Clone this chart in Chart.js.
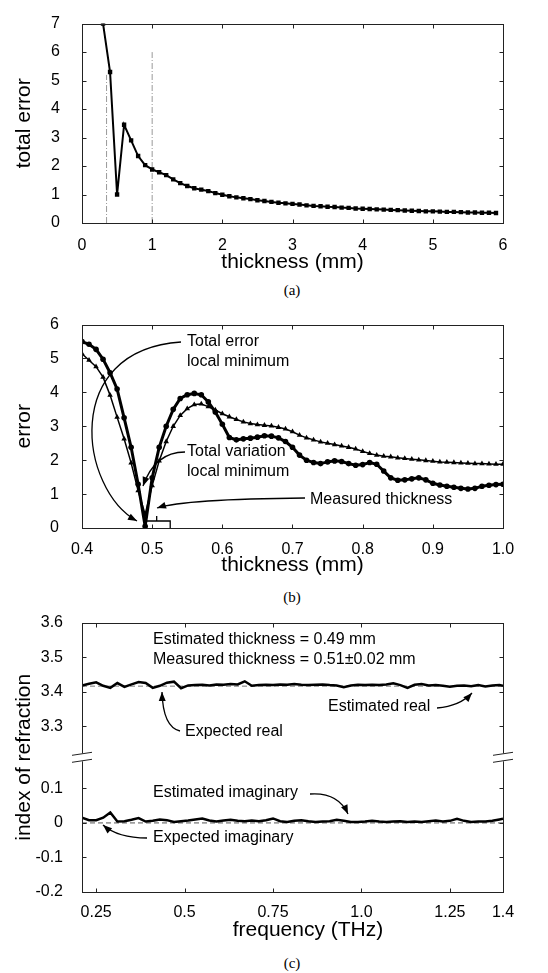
<!DOCTYPE html>
<html>
<head>
<meta charset="utf-8">
<script src="https://cdn.jsdelivr.net/npm/chart.js@4.4.1/dist/chart.umd.min.js"></script>
<style>
  body { margin: 0; background: #fff; }
  #page { position: relative; width: 548px; height: 973px; background: #fff; overflow: hidden; }
  canvas { position: absolute; left: 0; }
  .cap { position: absolute; left: 242px; width: 100px; text-align: center;
         font: 15px 'Liberation Serif', 'Times New Roman', serif; line-height: 16px; color: #000; }
</style>
</head>
<body>
<div id="page">
  <canvas id="chartA" width="548" height="275" style="top:0px"></canvas>
  <div class="cap" style="top:282px">(a)</div>
  <canvas id="chartB" width="548" height="278" style="top:300px"></canvas>
  <div class="cap" style="top:589px">(b)</div>
  <canvas id="chartC" width="548" height="341" style="top:602px"></canvas>
  <div class="cap" style="top:955px">(c)</div>
</div>
<script>
    // ---- (a) total error vs thickness ----
    var thicknessA = [0.3, 0.4, 0.5, 0.6, 0.7, 0.8, 0.9, 1.0, 1.1, 1.2, 1.3, 1.4, 1.5, 1.6, 1.7, 1.8, 1.9,
        2.0, 2.1, 2.2, 2.3, 2.4, 2.5, 2.6, 2.7, 2.8, 2.9, 3.0, 3.1, 3.2, 3.3, 3.4, 3.5, 3.6, 3.7, 3.8, 3.9,
        4.0, 4.1, 4.2, 4.3, 4.4, 4.5, 4.6, 4.7, 4.8, 4.9, 5.0, 5.1, 5.2, 5.3, 5.4, 5.5, 5.6, 5.7, 5.8, 5.9];
    var totalErrorA = [7.0, 5.3, 1.0, 3.45, 2.9, 2.35, 2.03, 1.88, 1.78, 1.68, 1.53, 1.40, 1.30, 1.22, 1.17, 1.12, 1.05,
        0.99, 0.94, 0.90, 0.87, 0.84, 0.80, 0.77, 0.74, 0.71, 0.69, 0.67, 0.65, 0.62, 0.60, 0.59, 0.57, 0.56, 0.54, 0.53, 0.51,
        0.50, 0.49, 0.48, 0.47, 0.46, 0.45, 0.44, 0.43, 0.42, 0.41, 0.41, 0.40, 0.39, 0.39, 0.38, 0.37, 0.37, 0.36, 0.36, 0.35];
    var guideXA = [0.35, 1.0];      // dash-dot guide lines
    var guideTopA = [5.2, 6.0];
    var xTicksA = [0, 1, 2, 3, 4, 5, 6];
    var yTicksA = [0, 1, 2, 3, 4, 5, 6, 7];

    // ---- (b) error vs thickness (zoom) ----
    var thicknessB = [0.40, 0.41, 0.42, 0.43, 0.44, 0.45, 0.46, 0.47, 0.48, 0.49,
        0.50, 0.51, 0.52, 0.53, 0.54, 0.55, 0.56, 0.57, 0.58, 0.59,
        0.60, 0.61, 0.62, 0.63, 0.64, 0.65, 0.66, 0.67, 0.68, 0.69,
        0.70, 0.71, 0.72, 0.73, 0.74, 0.75, 0.76, 0.77, 0.78, 0.79,
        0.80, 0.81, 0.82, 0.83, 0.84, 0.85, 0.86, 0.87, 0.88, 0.89,
        0.90, 0.91, 0.92, 0.93, 0.94, 0.95, 0.96, 0.97, 0.98, 0.99, 1.00];
    var totalErrorB = [5.50, 5.42, 5.27, 4.98, 4.58, 4.10, 3.25, 2.38, 1.29, 0.05,
        1.48, 2.38, 3.00, 3.50, 3.82, 3.93, 3.97, 3.93, 3.72, 3.42,
        3.06, 2.67, 2.60, 2.63, 2.65, 2.68, 2.72, 2.71, 2.66, 2.55,
        2.38, 2.15, 2.00, 1.93, 1.90, 1.95, 1.98, 1.96, 1.90, 1.85,
        1.87, 1.93, 1.88, 1.68, 1.48, 1.41, 1.42, 1.45, 1.48, 1.42,
        1.32, 1.27, 1.23, 1.20, 1.17, 1.15, 1.17, 1.23, 1.26, 1.28, 1.29];
    var totalVariationB = [5.14, 4.95, 4.76, 4.45, 3.92, 3.27, 2.63, 1.92, 1.10, 0.40,
        1.25, 1.98, 2.55, 3.00, 3.32, 3.52, 3.64, 3.66, 3.58, 3.48,
        3.37, 3.28, 3.20, 3.13, 3.08, 3.05, 3.03, 3.01, 2.97, 2.92,
        2.84, 2.74, 2.66, 2.60, 2.54, 2.50, 2.46, 2.42, 2.38, 2.33,
        2.26, 2.20, 2.15, 2.12, 2.10, 2.07, 2.05, 2.03, 2.01, 1.99,
        1.97, 1.95, 1.94, 1.93, 1.92, 1.91, 1.90, 1.90, 1.89, 1.88, 1.88];
    var measuredThickness = 0.51;
    var measuredTolerance = 0.02;
    var xTicksB = [0.4, 0.5, 0.6, 0.7, 0.8, 0.9, 1.0];
    var xLabelsB = ['0.4', '0.5', '0.6', '0.7', '0.8', '0.9', '1.0'];
    var yTicksB = [0, 1, 2, 3, 4, 5, 6];

    // ---- (c) index of refraction vs frequency ----
    var freqC = [0.21, 0.23, 0.25, 0.27, 0.29, 0.31, 0.33, 0.35, 0.37, 0.39,
        0.41, 0.43, 0.45, 0.47, 0.49, 0.51, 0.53, 0.55, 0.57, 0.59,
        0.61, 0.63, 0.65, 0.67, 0.69, 0.71, 0.73, 0.75, 0.77, 0.79,
        0.81, 0.83, 0.85, 0.87, 0.89, 0.91, 0.93, 0.95, 0.97, 0.99,
        1.01, 1.03, 1.05, 1.07, 1.09, 1.11, 1.13, 1.15, 1.17, 1.19,
        1.21, 1.23, 1.25, 1.27, 1.29, 1.31, 1.33, 1.35, 1.37, 1.39, 1.40];
    var realEstC = [3.418, 3.423, 3.427, 3.417, 3.411, 3.425, 3.414, 3.421, 3.428, 3.425,
        3.411, 3.417, 3.426, 3.429, 3.410, 3.418, 3.419, 3.420, 3.418, 3.421,
        3.420, 3.422, 3.421, 3.430, 3.417, 3.419, 3.420, 3.419, 3.421, 3.420,
        3.422, 3.420, 3.419, 3.420, 3.421, 3.419, 3.418, 3.413, 3.418, 3.420,
        3.419, 3.420, 3.419, 3.421, 3.424, 3.419, 3.411, 3.420, 3.422, 3.418,
        3.419, 3.417, 3.414, 3.417, 3.418, 3.416, 3.419, 3.415, 3.418, 3.419, 3.417];
    var imagEstC = [0.015, 0.008, 0.008, 0.015, 0.030, 0.004, 0.005, 0.009, 0.014, 0.004,
        0.006, 0.010, 0.008, 0.003, 0.005, 0.007, 0.010, 0.013, 0.007, 0.004,
        0.007, 0.009, 0.006, 0.005, 0.007, 0.005, 0.008, 0.013, 0.005, 0.003,
        0.006, 0.008, 0.005, 0.003, 0.004, 0.005, 0.009, 0.006, 0.003, 0.003,
        0.004, 0.006, 0.004, 0.003, 0.004, 0.005, 0.003, 0.004, 0.003, 0.005,
        0.007, 0.004, 0.006, 0.012, 0.006, 0.003, 0.004, 0.004, 0.006, 0.010, 0.012];
    var expectedFreqC = [0.21, 1.40];
    var expectedRealC = [3.416, 3.416];
    var expectedImagC = [0, 0];
    var xTicksC = [0.25, 0.5, 0.75, 1.0, 1.25, 1.4];
    var xLabelsC = ['0.25', '0.5', '0.75', '1.0', '1.25', '1.4'];
    var yTicksC = [-0.2, -0.1, 0, 0.1, 3.3, 3.4, 3.5, 3.6];
    var yLabelsC = ['-0.2', '-0.1', '0', '0.1', '3.3', '3.4', '3.5', '3.6'];

    var FONT = "'Liberation Sans', Arial, sans-serif";

    // broken y axis in (c): the real part is shifted down next to the imaginary part
    var BREAK_SHIFT = 3.02;
    var BREAK_AT = 0.19;
    function toAxisC(v) {
        return v > 1 ? v - BREAK_SHIFT : v;
    }

    function pts(xs, ys, f) {
        return xs.map(function (x, i) {
            return { x: x, y: f ? f(ys[i]) : ys[i] };
        });
    }

    function fixedTicks(values, f) {
        return function (scale) {
            scale.ticks = values.map(function (v) { return { value: f ? f(v) : v }; });
        };
    }

    function xAxis(min, max, ticks, labels, title, height, pad) {
        return {
            type: 'linear', min: min, max: max,
            grid: { display: false }, border: { display: false },
            afterBuildTicks: fixedTicks(ticks),
            afterFit: function (s) { s.height = height; },
            ticks: {
                color: '#000', padding: pad, maxRotation: 0, autoSkip: false,
                font: { family: FONT, size: 16 },
                callback: function (v, i) { return labels ? labels[i] : String(v); }
            },
            title: { display: !!title, text: title, color: '#000', padding: 0, font: { family: FONT, size: 21 } }
        };
    }

    function yAxis(min, max, ticks, labels, title, pad, f) {
        return {
            type: 'linear', min: min, max: max,
            grid: { display: false }, border: { display: false },
            afterBuildTicks: fixedTicks(ticks, f),
            afterFit: function (s) { s.width = 82; },
            ticks: {
                color: '#000', padding: pad, autoSkip: false,
                font: { family: FONT, size: 16 },
                callback: function (v, i) { return labels ? labels[i] : String(v); }
            },
            title: { display: true, text: title, color: '#000', padding: { top: 12 }, font: { family: FONT, size: 21 } }
        };
    }

    // box round the plot area with small inward ticks on all four sides
    var framePlugin = {
        id: 'frame',
        afterDraw: function (chart) {
            var ctx = chart.ctx, a = chart.chartArea;
            var xs = chart.scales.x, ys = chart.scales.y;
            var l = Math.round(a.left) + 0.5, r = Math.round(a.right) + 0.5;
            var t = Math.round(a.top) + 0.5, b = Math.round(a.bottom) + 0.5;
            ctx.save();
            ctx.strokeStyle = '#222';
            ctx.lineWidth = 1;
            ctx.strokeRect(l, t, r - l, b - t);
            ctx.beginPath();
            xs.ticks.forEach(function (tk, i) {
                var px = Math.round(xs.getPixelForTick(i)) + 0.5;
                ctx.moveTo(px, b); ctx.lineTo(px, b - 4);
                ctx.moveTo(px, t); ctx.lineTo(px, t + 4);
            });
            ys.ticks.forEach(function (tk, i) {
                var py = Math.round(ys.getPixelForTick(i)) + 0.5;
                ctx.moveTo(l, py); ctx.lineTo(l + 4, py);
                ctx.moveTo(r, py); ctx.lineTo(r - 4, py);
            });
            ctx.stroke();
            ctx.restore();
        }
    };

    function arrowHead(ctx, x, y, fx, fy) {
        var ang = Math.atan2(y - fy, x - fx), L = 9, W = 3.5;
        ctx.beginPath();
        ctx.moveTo(x, y);
        ctx.lineTo(x - L * Math.cos(ang) + W * Math.sin(ang), y - L * Math.sin(ang) - W * Math.cos(ang));
        ctx.lineTo(x - L * Math.cos(ang) - W * Math.sin(ang), y - L * Math.sin(ang) + W * Math.cos(ang));
        ctx.closePath();
        ctx.fill();
    }

    function curvedArrow(ctx, p) {
        var n = p.length;
        ctx.beginPath();
        ctx.moveTo(p[0], p[1]);
        if (n === 6) ctx.quadraticCurveTo(p[2], p[3], p[4], p[5]);
        else ctx.bezierCurveTo(p[2], p[3], p[4], p[5], p[6], p[7]);
        ctx.stroke();
        arrowHead(ctx, p[n - 2], p[n - 1], p[n - 4], p[n - 3]);
    }

    function drawNotes(ctx, texts, arrows, size) {
        ctx.save();
        ctx.fillStyle = '#000';
        ctx.strokeStyle = '#000';
        ctx.lineWidth = 1.3;
        ctx.font = size + 'px ' + FONT;
        ctx.textAlign = 'left';
        ctx.textBaseline = 'middle';
        texts.forEach(function (t) { ctx.fillText(t[0], t[1], t[2]); });
        arrows.forEach(function (p) { curvedArrow(ctx, p); });
        ctx.restore();
    }

    var notesB = {
        id: 'notesB',
        afterDraw: function (chart) {
            var ctx = chart.ctx, xs = chart.scales.x, ys = chart.scales.y;
            drawNotes(ctx, [
                ['Total error', 187, 42], ['local minimum', 187, 62],
                ['Total variation', 187, 152], ['local minimum', 187, 172],
                ['Measured thickness', 310, 200]
            ], [
                [181, 42, 60, 50, 80, 190, 137, 221],
                [185, 152, 155, 152, 143, 186],
                [305, 198, 185, 199, 157, 208]
            ], 16);
            // bracket for the measured thickness range
            var x0 = xs.getPixelForValue(measuredThickness - measuredTolerance) - 2;
            var x1 = xs.getPixelForValue(measuredThickness + measuredTolerance) - 3;
            var xm = (x0 + x1) / 2;
            var yb = ys.getPixelForValue(0), yt = yb - 7;
            ctx.save();
            ctx.strokeStyle = '#000';
            ctx.lineWidth = 1.3;
            ctx.beginPath();
            ctx.moveTo(x0, yt); ctx.lineTo(x1, yt); ctx.lineTo(x1, yb);
            ctx.moveTo(xm, yt); ctx.lineTo(xm, yt - 5);
            ctx.stroke();
            ctx.restore();
        }
    };

    var notesC = {
        id: 'notesC',
        afterDraw: function (chart) {
            var ctx = chart.ctx, a = chart.chartArea, ys = chart.scales.y;
            drawNotes(ctx, [
                ['Estimated thickness = 0.49 mm', 153, 38],
                ['Measured thickness = 0.51\u00b10.02 mm', 153, 58],
                ['Expected real', 185, 130],
                ['Estimated real', 328, 105],
                ['Estimated imaginary', 153, 191],
                ['Expected imaginary', 153, 236]
            ], [
                [180, 129, 163, 125, 162, 90],
                [437, 106, 460, 104, 472, 91],
                [310, 192, 338, 190, 348, 212],
                [147, 236, 118, 236, 103, 223]
            ], 16);
            // x axis title
            ctx.save();
            ctx.fillStyle = '#000';
            ctx.font = '21px ' + FONT;
            ctx.textAlign = 'center';
            ctx.textBaseline = 'middle';
            ctx.fillText('frequency (THz)', 308, 328);
            // axis break marks
            var by = ys.getPixelForValue(BREAK_AT);
            ctx.fillStyle = '#fff';
            ctx.fillRect(a.left - 2, by - 4, 5, 8);
            ctx.fillRect(a.right - 2, by - 4, 5, 8);
            ctx.strokeStyle = '#222';
            ctx.lineWidth = 1;
            ctx.beginPath();
            [a.left, a.right].forEach(function (x) {
                ctx.moveTo(x - 10, by - 2); ctx.lineTo(x + 10, by - 5);
                ctx.moveTo(x - 10, by + 5); ctx.lineTo(x + 10, by + 2);
            });
            ctx.stroke();
            ctx.restore();
        }
    };

    var baseOptions = {
        responsive: false,
        animation: false,
        plugins: { legend: { display: false }, tooltip: { enabled: false } }
    };

    function opts(scales) {
        return Object.assign({}, baseOptions, {
            layout: { padding: { left: 0, right: 45, top: 18, bottom: 0 } },
            scales: scales
        });
    }

    // (a)
    var guideSetsA = guideXA.map(function (gx, i) {
        return {
            data: [{ x: gx, y: 0 }, { x: gx, y: guideTopA[i] }],
            showLine: true, borderColor: '#9a9a9a', borderWidth: 1,
            borderDash: [6, 2, 1, 2], pointRadius: 0
        };
    });
    new Chart(document.getElementById('chartA'), {
        type: 'scatter',
        data: {
            datasets: [{
                data: pts(thicknessA, totalErrorA),
                showLine: true, borderColor: '#000', borderWidth: 2, tension: 0,
                pointStyle: 'rect', pointRadius: 3.1, pointBackgroundColor: '#000', pointBorderWidth: 0
            }].concat(guideSetsA)
        },
        options: opts({
            x: xAxis(0, 6, xTicksA, null, 'thickness (mm)', 52, 5),
            y: yAxis(0, 7, yTicksA, null, 'total error', 14)
        }),
        plugins: [framePlugin]
    });

    // (b)
    new Chart(document.getElementById('chartB'), {
        type: 'scatter',
        data: {
            datasets: [{
                data: pts(thicknessB, totalErrorB),
                showLine: true, borderColor: '#000', borderWidth: 3, tension: 0,
                pointStyle: 'circle', pointRadius: 2.8, pointBackgroundColor: '#000', pointBorderWidth: 0
            }, {
                data: pts(thicknessB, totalVariationB),
                showLine: true, borderColor: '#000', borderWidth: 1.5, tension: 0,
                pointStyle: 'triangle', pointRadius: 3.2, pointBackgroundColor: '#000', pointBorderWidth: 0
            }]
        },
        options: opts({
            x: xAxis(0.4, 1.0, xTicksB, xLabelsB, 'thickness (mm)', 50, 4),
            y: yAxis(0, 6, yTicksB, null, 'error', 15)
        }),
        plugins: [framePlugin, notesB]
    });

    // (c)
    var xc = xAxis(0.21, 1.4, xTicksC, xLabelsC, '', 51, 3);
    new Chart(document.getElementById('chartC'), {
        type: 'scatter',
        data: {
            datasets: [{
                data: pts(freqC, realEstC, toAxisC),
                showLine: true, borderColor: '#000', borderWidth: 2.5, tension: 0, pointRadius: 0
            }, {
                data: pts(freqC, imagEstC, toAxisC),
                showLine: true, borderColor: '#000', borderWidth: 2.5, tension: 0, pointRadius: 0
            }, {
                data: pts(expectedFreqC, expectedRealC, toAxisC),
                showLine: true, borderColor: '#777', borderWidth: 1, borderDash: [5, 3], pointRadius: 0
            }, {
                data: pts(expectedFreqC, expectedImagC, toAxisC),
                showLine: true, borderColor: '#555', borderWidth: 1, borderDash: [5, 3], pointRadius: 0
            }]
        },
        options: opts({
            x: xc,
            y: yAxis(-0.2, 0.58, yTicksC, yLabelsC, 'index of refraction', 11, toAxisC)
        }),
        plugins: [framePlugin, notesC]
    });
</script>
</body>
</html>
